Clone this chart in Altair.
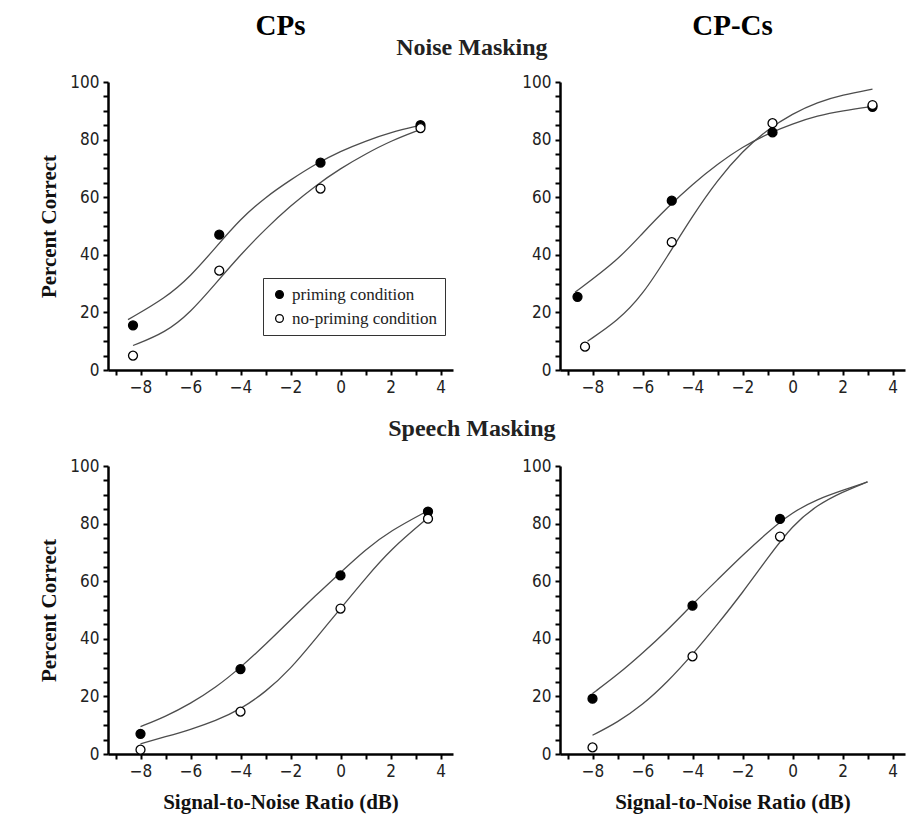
import altair as alt
import pandas as pd

# ---------------- data ----------------
# Noise masking, CPs
nc_x = [-8.3, -4.85, -0.8, 3.2]
nc_prime = [15.5, 47, 72, 85]
nc_noprime = [5, 34.5, 63, 84]
nc_cx_prime = [-8.5, -7, -6, -5, -4, -3, -2, -1, 0, 1, 2, 3.2]
nc_cy_prime = [17.5, 25, 32.5, 42.5, 52.5, 60, 66, 71.5, 76, 79.5, 82.5, 85]
nc_cx_noprime = [-8.3, -7, -6, -5, -4, -3, -2, -1, 0, 1, 2, 3.2]
nc_cy_noprime = [8.5, 13, 20, 30, 40, 49, 57, 64, 70, 75, 79.5, 83.5]

# Noise masking, CP-Cs
ncc_x_prime = [-8.6, -4.83, -0.8, 3.2]
ncc_prime = [25.4, 58.8, 82.5, 91.4]
ncc_x_noprime = [-8.3, -4.83, -0.8, 3.2]
ncc_noprime = [8.1, 44.4, 85.7, 92]
ncc_cx_prime = [-8.7, -7, -6, -5, -4, -3, -2, -1, 0, 1, 2, 3.2]
ncc_cy_prime = [27, 38, 47.5, 56.5, 64.5, 71.5, 77.5, 82, 85.5, 88.3, 90, 91.5]
ncc_cx_noprime = [-8.2, -7, -6, -5, -4, -3, -2, -1, 0, 1, 2, 3.2]
ncc_cy_noprime = [10, 17, 26, 39.5, 53.5, 66, 76, 83.5, 89, 93, 95.5, 97.5]

# Speech masking, CPs
sc_x = [-8, -4, 0, 3.5]
sc_prime = [7, 29.5, 62, 84.2]
sc_noprime = [1.5, 14.7, 50.5, 81.7]
sc_cx = [-8, -7, -6, -5, -4, -3, -2, -1, 0, 1, 2, 3.5]
sc_cy_prime = [9.5, 13, 17.5, 23, 30, 38, 46.5, 55, 63, 71, 77.5, 84.5]
sc_cy_noprime = [3.5, 6, 8.5, 11.5, 15.5, 21.5, 29.5, 40, 50.5, 61, 71, 82]

# Speech masking, CP-Cs
scc_x = [-8, -4, -0.5]
scc_prime = [19.2, 51.5, 81.6]
scc_noprime = [2.3, 33.9, 75.5]
scc_cx = [-8, -7, -6, -5, -4, -3, -2, -1, 0, 1, 2, 3]
scc_cy_prime = [21, 27.5, 35, 43, 52, 60.5, 69, 77, 84, 88.5, 91.5, 94.5]
scc_cy_noprime = [6.5, 11, 17, 25, 34.5, 45, 56, 68, 79.5, 86.5, 91, 94.5]

conditions = ["priming condition", "no-priming condition"]
x_ticks = [-9, -8, -7, -6, -5, -4, -3, -2, -1, 0, 1, 2, 3, 4]
y_ticks = [0, 5, 10, 15, 20, 25, 30, 35, 40, 45, 50, 55, 60, 65, 70, 75, 80, 85, 90, 95, 100]

SERIF = "Liberation Serif, Times New Roman, serif"
NARROW = "Liberation Sans Narrow, DejaVu Sans Condensed, Arial Narrow, sans-serif"


def points_df(xp, yp, xn, yn):
    rows = [{"x": a, "y": b, "cond": conditions[0]} for a, b in zip(xp, yp)]
    rows += [{"x": a, "y": b, "cond": conditions[1]} for a, b in zip(xn, yn)]
    return pd.DataFrame(rows)


def panel(pts, curves, title=None, ytitle="", xtitle="", legend=False):
    xs = alt.Scale(domain=[-9.3, 4.5], nice=False)
    ys = alt.Scale(domain=[0, 100], nice=False)
    xaxis = alt.Axis(values=x_ticks, labelExpr="datum.value % 2 ? '' : datum.label",
                     grid=False, title=xtitle, labelOverlap=False, titlePadding=12)
    yaxis = alt.Axis(values=y_ticks,
                     labelExpr="datum.value % 20 ? '' : datum.label",
                     grid=False, title=ytitle, labelOverlap=False, labelFlush=False,
                     titlePadding=10)
    lines = alt.Chart(curves).mark_line(color="#4d4d4d", strokeWidth=1.3,
                                        interpolate="basis").encode(
        x=alt.X("x:Q", scale=xs, axis=xaxis),
        y=alt.Y("y:Q", scale=ys, axis=yaxis),
        detail="cond:N",
    )
    fill_kwargs = dict(scale=alt.Scale(domain=conditions, range=["black", "white"]))
    if legend:
        fill_kwargs["legend"] = alt.Legend(
            title=None, orient="none", legendX=155, legendY=196,
            strokeColor="#333", padding=8, symbolStrokeColor="black",
            symbolStrokeWidth=1.3, symbolSize=60, labelFont=SERIF,
            labelFontSize=17, labelColor="#222", rowPadding=6)
    else:
        fill_kwargs["legend"] = None
    dots = alt.Chart(pts).mark_point(filled=True, size=80, stroke="black",
                                     strokeWidth=1.3, opacity=1).encode(
        x=alt.X("x:Q", axis=xaxis), y=alt.Y("y:Q", axis=yaxis),
        fill=alt.Fill("cond:N", **fill_kwargs),
    )
    props = dict(width=345, height=288)
    if title is not None:
        props["title"] = alt.TitleParams(title, fontSize=29, font=SERIF, fontWeight="bold",
                                         offset=32, anchor="middle", color="black")
    return alt.layer(lines, dots).properties(**props)


p1 = panel(points_df(nc_x, nc_prime, nc_x, nc_noprime),
           points_df(nc_cx_prime, nc_cy_prime, nc_cx_noprime, nc_cy_noprime),
           title="CPs", ytitle="Percent Correct", legend=True)
p2 = panel(points_df(ncc_x_prime, ncc_prime, ncc_x_noprime, ncc_noprime),
           points_df(ncc_cx_prime, ncc_cy_prime, ncc_cx_noprime, ncc_cy_noprime),
           title="CP-Cs")
p3 = panel(points_df(sc_x, sc_prime, sc_x, sc_noprime),
           points_df(sc_cx, sc_cy_prime, sc_cx, sc_cy_noprime),
           ytitle="Percent Correct", xtitle="Signal-to-Noise Ratio (dB)")
p4 = panel(points_df(scc_x, scc_prime, scc_x, scc_noprime),
           points_df(scc_cx, scc_cy_prime, scc_cx, scc_cy_noprime),
           xtitle="Signal-to-Noise Ratio (dB)")

top = alt.hconcat(p1, p2, spacing=68).properties(
    title=alt.TitleParams("Noise Masking", fontSize=24, font=SERIF, fontWeight="bold",
                          anchor="middle", offset=-48, color="#222"))
bottom = alt.hconcat(p3, p4, spacing=68).properties(
    title=alt.TitleParams("Speech Masking", fontSize=24, font=SERIF, fontWeight="bold",
                          anchor="middle", offset=16, color="#222"))

chart = alt.vconcat(top, bottom, spacing=22).resolve_scale(fill="shared").configure(
    background="white", padding={"left": 38, "top": 12, "right": 8, "bottom": 5}
).configure_view(
    stroke=None
).configure_axis(
    domainColor="black", domainWidth=2.5, tickColor="black", tickWidth=2, tickSize=5,
    labelFont=NARROW, labelFontSize=17, labelColor="#222", labelPadding=4,
    titleFont=SERIF, titleFontSize=21, titleFontWeight="bold", titleColor="#111",
)

chart.save("out.html", embed_options={"renderer": "svg", "actions": False})
